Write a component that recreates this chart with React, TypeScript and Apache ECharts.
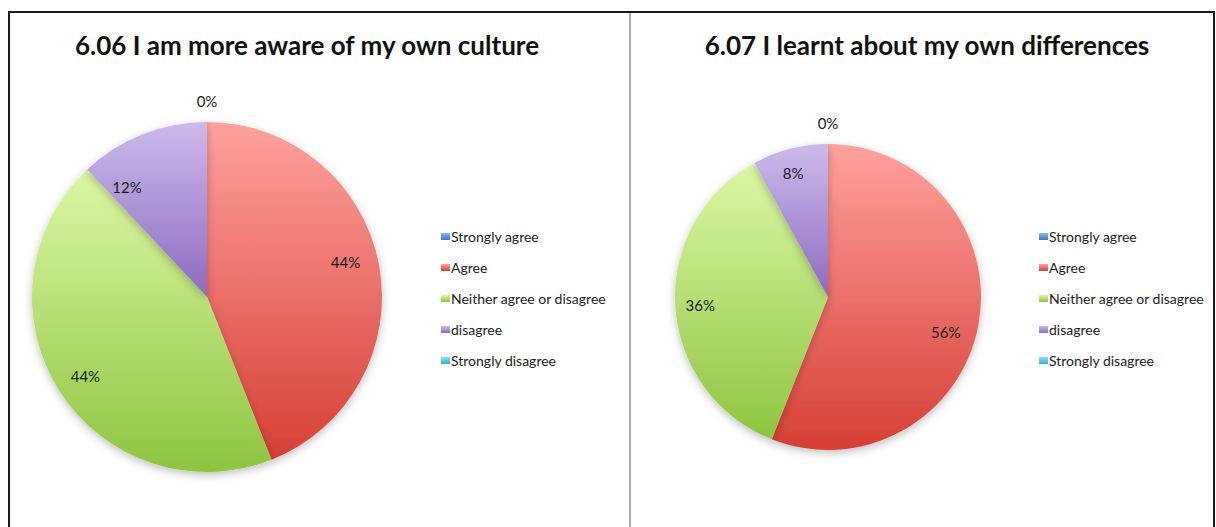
import React, { useEffect, useRef } from "react";
import * as echarts from "echarts";

const categories = ["Strongly agree", "Agree", "Neither agree or disagree", "disagree", "Strongly disagree"];
const titles = ["6.06 I am more aware of my own culture", "6.07 I learnt about my own differences"];
const values606 = [0, 44, 44, 12, 0];
const values607 = [0, 56, 36, 8, 0];

const topColors = ["#8fb4ec", "#ffa19c", "#dcf7a6", "#cdbaec", "#8fe0f4"];
const bottomColors = ["#3f74c8", "#d63f36", "#8ec53f", "#8c6bbf", "#2fb0d6"];

// small label nudges (style only), per category
const labelNudge606: [number, number][] = [[0, 0], [-3, -8], [0, 2], [-27, 24], [0, 0]];
const labelNudge607: [number, number][] = [[0, 0], [-8, 11], [0, 0], [-3, 0], [0, 0]];

const FONT = "Lato, 'Open Sans', sans-serif";

function grad(i: number) {
  return new echarts.graphic.LinearGradient(0, 0, 0, 1, [
    { offset: 0, color: topColors[i] },
    { offset: 1, color: bottomColors[i] },
  ]);
}

function pieSeries(
  values: number[],
  nudge: [number, number][],
  center: [number, number],
  r: number,
  labelR: [number, number],
  zeroR: [number, number]
) {
  const main = {
    type: "pie",
    center,
    radius: [0, r],
    startAngle: 90,
    clockwise: true,
    silent: true,
    avoidLabelOverlap: false,
    label: { show: false },
    labelLine: { show: false },
    itemStyle: {
      borderWidth: 0,
      shadowBlur: 8,
      shadowOffsetY: 3,
      shadowColor: "rgba(0,0,0,0.25)",
    },
    data: values.map((v, i) => ({ name: categories[i], value: v, itemStyle: { color: grad(i) } })),
  };
  const labels = {
    type: "pie",
    center,
    radius: labelR,
    startAngle: 90,
    clockwise: true,
    silent: true,
    avoidLabelOverlap: false,
    itemStyle: { color: "rgba(0,0,0,0)", borderWidth: 0 },
    label: {
      show: true,
      position: "inside",
      fontFamily: FONT,
      fontSize: 15,
      color: "#1a1a1a",
      formatter: (p: any) => (p.value > 0 ? p.value + "%" : ""),
    },
    labelLine: { show: false },
    legendHoverLink: false,
    data: values.map((v, i) => ({ name: categories[i], value: v, label: { offset: nudge[i] } })),
  };
  const zeros = {
    type: "pie",
    center,
    radius: zeroR,
    startAngle: 90,
    clockwise: true,
    silent: true,
    avoidLabelOverlap: false,
    itemStyle: { color: "rgba(0,0,0,0)", borderWidth: 0 },
    label: {
      show: true,
      position: "inside",
      fontFamily: FONT,
      fontSize: 15,
      color: "#1a1a1a",
      formatter: (p: any) => (p.value === 0 ? "0%" : ""),
    },
    labelLine: { show: false },
    data: values.map((v, i) => ({ name: categories[i], value: v })),
  };
  return [main, labels, zeros];
}

function legend(left: number) {
  return {
    orient: "vertical",
    left,
    top: 224,
    icon: "rect",
    itemWidth: 9,
    itemHeight: 7,
    itemGap: 16,
    selectedMode: false,
    textStyle: { fontFamily: FONT, fontSize: 14, color: "#222", lineHeight: 15, padding: [0, 0, 0, -4] },
    data: categories,
  };
}

export default function App() {
  const ref = useRef<HTMLDivElement>(null);
  useEffect(() => {
    if (!ref.current) return;
    const chart = echarts.init(ref.current, null, { renderer: "svg" });
    chart.setOption({
      animation: false,
      backgroundColor: "#ffffff",
      title: [
        {
          text: titles[0],
          left: 302,
          top: 27,
          textAlign: "center",
          textStyle: { fontFamily: FONT, fontSize: 26, fontWeight: "bold", color: "#111" },
        },
        {
          text: titles[1],
          left: 922,
          top: 27,
          textAlign: "center",
          textStyle: { fontFamily: FONT, fontSize: 26, fontWeight: "bold", color: "#111" },
        },
      ],
      legend: [legend(436), legend(1034)],
      graphic: [
        { type: "line", shape: { x1: 8, y1: 12, x2: 1215, y2: 12 }, style: { stroke: "#1a1a1a", lineWidth: 2 } },
        { type: "line", shape: { x1: 9, y1: 12, x2: 9, y2: 527 }, style: { stroke: "#1a1a1a", lineWidth: 2 } },
        { type: "line", shape: { x1: 1214, y1: 12, x2: 1214, y2: 527 }, style: { stroke: "#1a1a1a", lineWidth: 2 } },
        { type: "line", shape: { x1: 630, y1: 13, x2: 630, y2: 527 }, style: { stroke: "#aaaaaa", lineWidth: 2 } },
      ],
      series: [
        ...pieSeries(values606, labelNudge606, [207, 297], 175, [110, 172], [172, 214]),
        ...pieSeries(values607, labelNudge607, [828, 297], 153, [98, 152], [150, 192]),
      ],
    });
    return () => chart.dispose();
  }, []);
  return <div ref={ref} style={{ position: "absolute", left: 0, top: 0, width: 1216, height: 527 }} />;
}
